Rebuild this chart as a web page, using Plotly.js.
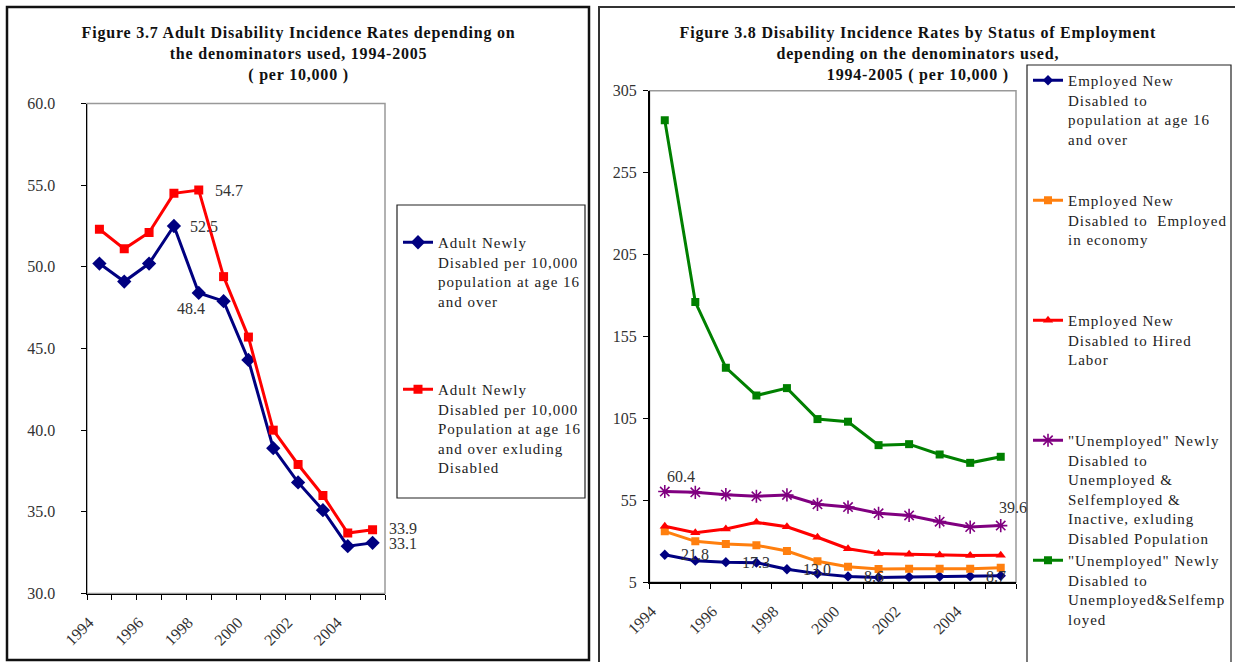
<!DOCTYPE html>
<html>
<head>
<meta charset="utf-8">
<script src="https://cdn.plot.ly/plotly-3.0.1.min.js"></script>
<style>
html,body{margin:0;padding:0;background:#fff;}
#chart{width:1235px;height:662px;}
text.legendtext, text.legend2text, text[class$="text"].legend2text tspan{letter-spacing:1px;}
#chart .annotation[data-index="0"] text,
#chart .annotation[data-index="1"] text{letter-spacing:0.8px;}
</style>
</head>
<body>
<div id="chart"></div>
<script>
// ---------- DATA ----------
var years = [1994,1995,1996,1997,1998,1999,2000,2001,2002,2003,2004,2005];
var xTickLabels = ['1994','','1996','','1998','','2000','','2002','','2004','',''];

// Figure 3.7
var adultPop16 = [50.2,49.1,50.2,52.5,48.4,47.9,44.3,38.9,36.8,35.1,32.9,33.1];
var adultPop16ExDis = [52.3,51.1,52.1,54.5,54.7,49.4,45.7,40.0,37.9,36.0,33.7,33.9];

// Figure 3.8
var empToPop16 = [21.8,18.2,17.3,17.0,13.0,10.3,8.6,8.0,8.2,8.5,8.7,9.0];
var empToEmployed = [36.1,30.0,28.4,27.6,24.1,17.8,14.5,13.1,13.3,13.3,13.3,13.9];
var empToHired = [39.2,35.3,37.5,41.6,38.9,32.5,25.5,22.5,22.1,21.7,21.3,21.5];
var unempToUnempSelfInact = [60.4,59.9,58.5,57.5,58.3,52.6,50.9,47.1,45.8,42.0,38.7,39.6];
var unempToUnempSelf = [287,176,136,119,123.5,104.6,103,88.7,89.3,83,77.9,81.6];

var leftNames = [
  'Adult Newly<br>Disabled per 10,000<br>population at age 16<br>and over',
  'Adult Newly<br>Disabled per 10,000<br>Population at age 16<br>and over exluding<br>Disabled'
];
var rightNames = [
  'Employed New<br>Disabled to<br>population at age 16<br>and over',
  'Employed New<br>Disabled to  Employed<br>in economy',
  'Employed New<br>Disabled to Hired<br>Labor',
  '"Unemployed" Newly<br>Disabled to<br>Unemployed &amp;<br>Selfemployed &amp;<br>Inactive, exluding<br>Disabled Population',
  '"Unemployed" Newly<br>Disabled to<br>Unemployed&amp;Selfemp<br>loyed'
];

// ---------- HELPERS ----------
var W = 1235, H = 662;
function px(v){ return v / W; }
function py(v){ return 1 - v / H; }
function pad(name, n){
  var c = name.split('<br>').length;
  var s = name;
  for (var i = c; i < n; i++) s += '<br> ';
  return s;
}
var FONT = 'Liberation Serif, Times New Roman, serif';
var tickVals = years.map(function(y){ return y - 0.5; }).concat([years[years.length-1] + 0.5]);

function tr(y, name, color, symbol, size, xa, ya, lg, grp){
  var isAst = symbol.indexOf('asterisk') === 0;
  return {
    x: years, y: y, name: name, type: 'scatter', mode: 'lines+markers',
    xaxis: xa, yaxis: ya, legend: lg, legendgroup: grp,
    line: {color: color, width: 3},
    marker: {symbol: symbol, size: size, color: color,
             line: {color: color, width: isAst ? 1.6 : 0}},
    hoverinfo: 'x+y'
  };
}

var traces = [
  tr(adultPop16, pad(leftNames[0], 7), '#000080', 'diamond', 11, 'x', 'y', 'legend', 'a'),
  tr(adultPop16ExDis, leftNames[1], '#FF0000', 'square', 9, 'x', 'y', 'legend', 'b'),
  tr(empToPop16, pad(rightNames[0], 6), '#000080', 'diamond', 8, 'x2', 'y2', 'legend2', 'c'),
  tr(empToEmployed, pad(rightNames[1], 6), '#FF7F0E', 'square', 8, 'x2', 'y2', 'legend2', 'd'),
  tr(empToHired, pad(rightNames[2], 6), '#FF0000', 'triangle-up', 9, 'x2', 'y2', 'legend2', 'e'),
  tr(unempToUnempSelfInact, pad(rightNames[3], 6), '#800080', 'asterisk-open', 11, 'x2', 'y2', 'legend2', 'f'),
  tr(unempToUnempSelf, rightNames[4], '#008000', 'square', 8, 'x2', 'y2', 'legend2', 'g')
];

function xAxis(domain, anchor){
  return {
    domain: domain, anchor: anchor, range: [years[0]-0.5, years[years.length-1]+0.5],
    tickmode: 'array', tickvals: tickVals, ticktext: xTickLabels, tickangle: -45,
    ticks: 'outside', ticklen: 5, tickcolor: '#000', tickwidth: 1,
    ticklabelshift: 2, ticklabelstandoff: 7,
    showline: true, linecolor: '#000', linewidth: 1.5, showgrid: false, zeroline: false,
    tickfont: {family: FONT, size: 16, color: '#333'}, fixedrange: true
  };
}
function yAxis(domain, anchor, range, dtick, fmt, standoff){
  return {
    domain: domain, anchor: anchor, range: range, tick0: range[0], dtick: dtick,
    tickformat: fmt, ticks: 'outside', ticklen: 5, tickcolor: '#000', tickwidth: 1,
    showline: true, linecolor: '#000', linewidth: 1.5, showgrid: false, zeroline: false,
    ticklabelstandoff: standoff,
    tickfont: {family: FONT, size: 16, color: '#333'}, fixedrange: true
  };
}

function lab(xi, yi, text, opts){
  var a = {x: xi, y: yi, text: text, showarrow: false,
           font: {family: FONT, size: 16, color: '#333'},
           xanchor: 'left', yanchor: 'middle', xshift: 14, yshift: 0};
  for (var k in opts) a[k] = opts[k];
  return a;
}

var annotations = [
  {xref: 'paper', yref: 'paper', x: px(298), y: py(22), xanchor: 'center', yanchor: 'top',
   text: '<b>Figure 3.7 Adult Disability Incidence Rates depending on<br>the denominators used, 1994-2005<br>( per 10,000 )</b>',
   showarrow: false, font: {family: FONT, size: 16, color: '#111'}},
  {xref: 'paper', yref: 'paper', x: px(918), y: py(22), xanchor: 'center', yanchor: 'top',
   text: '<b>Figure 3.8 Disability Incidence Rates by Status of Employment<br>depending on the denominators used,<br>1994-2005 ( per 10,000 )</b>',
   showarrow: false, font: {family: FONT, size: 16, color: '#111'}},
  // left labels
  lab(years[4], adultPop16ExDis[4], adultPop16ExDis[4].toFixed(1), {xref: 'x', yref: 'y'}),
  lab(years[3], adultPop16[3], adultPop16[3].toFixed(1), {xref: 'x', yref: 'y'}),
  lab(years[4], adultPop16[4], adultPop16[4].toFixed(1), {xref: 'x', yref: 'y', xanchor: 'center', xshift: -8, yshift: -16}),
  lab(years[11], adultPop16ExDis[11], adultPop16ExDis[11].toFixed(1), {xref: 'x', yref: 'y', yshift: 1}),
  lab(years[11], adultPop16[11], adultPop16[11].toFixed(1), {xref: 'x', yref: 'y', yshift: -1}),
  // right labels
  lab(years[0], unempToUnempSelfInact[0], unempToUnempSelfInact[0].toFixed(1), {xref: 'x2', yref: 'y2', xshift: 0, yshift: 15}),
  lab(years[11], unempToUnempSelfInact[11], unempToUnempSelfInact[11].toFixed(1), {xref: 'x2', yref: 'y2', xshift: -4, yshift: 18}),
  lab(years[0], empToPop16[0], empToPop16[0].toFixed(1), {xref: 'x2', yref: 'y2'}),
  lab(years[2], empToPop16[2], empToPop16[2].toFixed(1), {xref: 'x2', yref: 'y2'}),
  lab(years[4], empToPop16[4], empToPop16[4].toFixed(1), {xref: 'x2', yref: 'y2'}),
  lab(years[6], empToPop16[6], empToPop16[6].toFixed(1), {xref: 'x2', yref: 'y2'}),
  lab(years[10], empToPop16[10], empToPop16[10].toFixed(1), {xref: 'x2', yref: 'y2'})
];

var shapes = [
  {type: 'rect', xref: 'paper', yref: 'paper', x0: px(7), x1: px(589), y0: py(660), y1: py(7),
   line: {color: '#111', width: 2.5}, layer: 'below'},
  {type: 'rect', xref: 'paper', yref: 'paper', x0: px(599), x1: px(1250), y0: py(680), y1: py(7),
   line: {color: '#333', width: 2}, layer: 'below'},
  {type: 'rect', xref: 'x domain', yref: 'y domain', x0: 0, x1: 1, y0: 0, y1: 1,
   line: {color: '#999', width: 1.5}, layer: 'below'},
  {type: 'rect', xref: 'x2 domain', yref: 'y2 domain', x0: 0, x1: 1, y0: 0, y1: 1,
   line: {color: '#999', width: 1.5}, layer: 'below'},
  {type: 'rect', xref: 'paper', yref: 'paper', x0: px(397), x1: px(585), y0: py(498), y1: py(205),
   line: {color: '#222', width: 1.2}, layer: 'below'},
  {type: 'rect', xref: 'paper', yref: 'paper', x0: px(1027), x1: px(1231), y0: py(680), y1: py(65),
   line: {color: '#222', width: 1.2}, layer: 'below'}
];

var layout = {
  width: W, height: H, margin: {l: 0, r: 0, t: 0, b: 0, autoexpand: false},
  paper_bgcolor: '#fff', plot_bgcolor: 'rgba(0,0,0,0)',
  showlegend: true,
  xaxis: xAxis([px(87), px(385)], 'y'),
  yaxis: yAxis([py(593.5), py(103.5)], 'x', [30, 60], 5, '.1f', 22),
  xaxis2: xAxis([px(649.5), px(1016)], 'y2'),
  yaxis2: yAxis([py(582.3), py(90.7)], 'x2', [5, 305], 50, 'd', 3),
  legend: {x: px(398), y: py(226), xanchor: 'left', yanchor: 'top', bgcolor: 'rgba(0,0,0,0)',
           borderwidth: 0, valign: 'top', tracegroupgap: 7.5,
           font: {family: FONT, size: 15, color: '#222'}},
  legend2: {x: px(1028), y: py(64), xanchor: 'left', yanchor: 'top', bgcolor: 'rgba(0,0,0,0)',
           borderwidth: 0, valign: 'top', tracegroupgap: 0,
           font: {family: FONT, size: 15, color: '#222'}},
  annotations: annotations,
  shapes: shapes
};

Plotly.newPlot('chart', traces, layout, {displayModeBar: false, staticPlot: true});
</script>
</body>
</html>
